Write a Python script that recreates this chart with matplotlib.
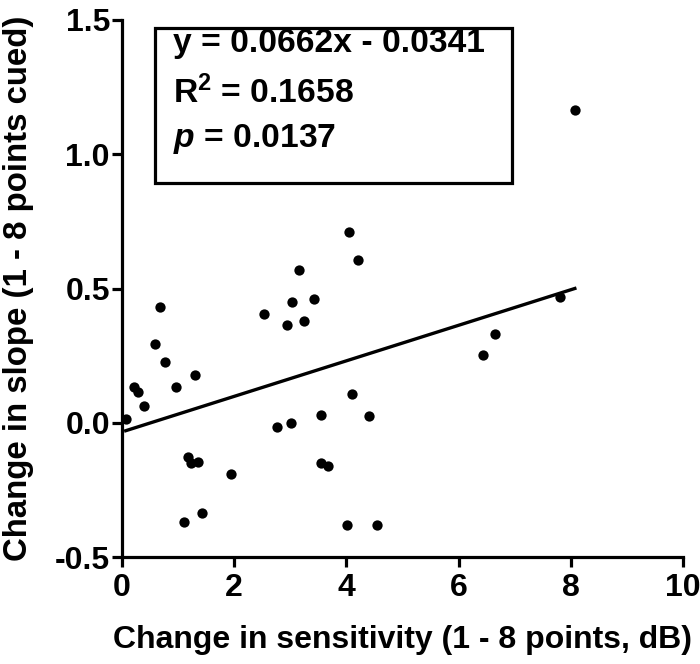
import numpy as np
import matplotlib
matplotlib.use('Agg')
import matplotlib.pyplot as plt
from matplotlib.patches import Rectangle

plt.rcParams['font.family'] = ['Liberation Sans', 'DejaVu Sans']
plt.rcParams['font.weight'] = 'bold'
plt.rcParams['mathtext.fontset'] = 'custom'
plt.rcParams['mathtext.rm'] = 'Liberation Sans:bold'
plt.rcParams['mathtext.bf'] = 'Liberation Sans:bold'
plt.rcParams['mathtext.it'] = 'Liberation Sans:italic:bold'

# change in sensitivity (dB) vs change in slope
sens = [0.07, 0.21, 0.28, 0.40, 0.60, 0.68, 0.77, 0.97, 1.10, 1.18, 1.24, 1.31,
        1.36, 1.43, 1.95, 2.54, 2.76, 2.95, 3.02, 3.04, 3.16, 3.25, 3.43, 3.55,
        3.55, 3.68, 4.01, 4.05, 4.10, 4.20, 4.40, 4.55, 6.44, 6.65, 7.81, 8.07]
slope = [0.015, 0.134, 0.115, 0.061, 0.292, 0.430, 0.228, 0.135, -0.369, -0.126,
         -0.148, 0.179, -0.147, -0.336, -0.191, 0.406, -0.017, 0.365, 0.000, 0.451,
         0.569, 0.379, 0.461, 0.029, -0.148, -0.160, -0.380, 0.712, 0.107, 0.605,
         0.027, -0.380, 0.251, 0.330, 0.469, 1.165]

fit_slope = 0.0662
fit_icpt = -0.0341
stats_lines = ['y = 0.0662x - 0.0341', 'R$^2$ = 0.1658', '$p$ = 0.0137']

x_ticks = [0, 2, 4, 6, 8, 10]
y_ticks = [-0.5, 0.0, 0.5, 1.0, 1.5]

fs = 23

fig = plt.figure(figsize=(7, 6.64), dpi=100)
ax = fig.add_axes([0.174, 0.161, 0.802, 0.809])

ax.scatter(sens, slope, s=55, color='black', zorder=3, linewidths=0)
xs = np.array([min(sens), max(sens)])
ax.plot(xs, fit_slope * xs + fit_icpt, color='black', lw=2.4)

ax.set_xlim(0, 10)
ax.set_ylim(-0.5, 1.5)
ax.set_xticks(x_ticks)
ax.set_xticklabels([str(t) for t in x_ticks])
ax.set_yticks(y_ticks)
ax.set_yticklabels(['%.1f' % t for t in y_ticks])

for s in ['top', 'right']:
    ax.spines[s].set_visible(False)
for s in ['left', 'bottom']:
    ax.spines[s].set_linewidth(2.3)
ax.tick_params(width=2.3, length=7.5, labelsize=fs)
ax.tick_params(axis='y', pad=1)
ax.tick_params(axis='x', pad=4)
for lab in ax.get_xticklabels() + ax.get_yticklabels():
    lab.set_fontweight('bold')

ax.set_xlabel('Change in sensitivity (1 - 8 points, dB)', fontsize=fs,
              fontweight='bold', labelpad=16)
ax.set_ylabel('Change in slope (1 - 8 points cued)', fontsize=23.8,
              fontweight='bold', labelpad=15)

# stats box
ax.add_patch(Rectangle((0.059, 0.696), 0.636, 0.289, transform=ax.transAxes,
                       fill=False, lw=2.3, edgecolor='black', clip_on=False))
for txt, yy in zip(stats_lines, [0.957, 0.865, 0.779]):
    ax.text(0.091, yy, txt, transform=ax.transAxes, fontsize=24.2,
            fontweight='bold', va='center', ha='left')

fig.savefig('out.png', dpi=100)
